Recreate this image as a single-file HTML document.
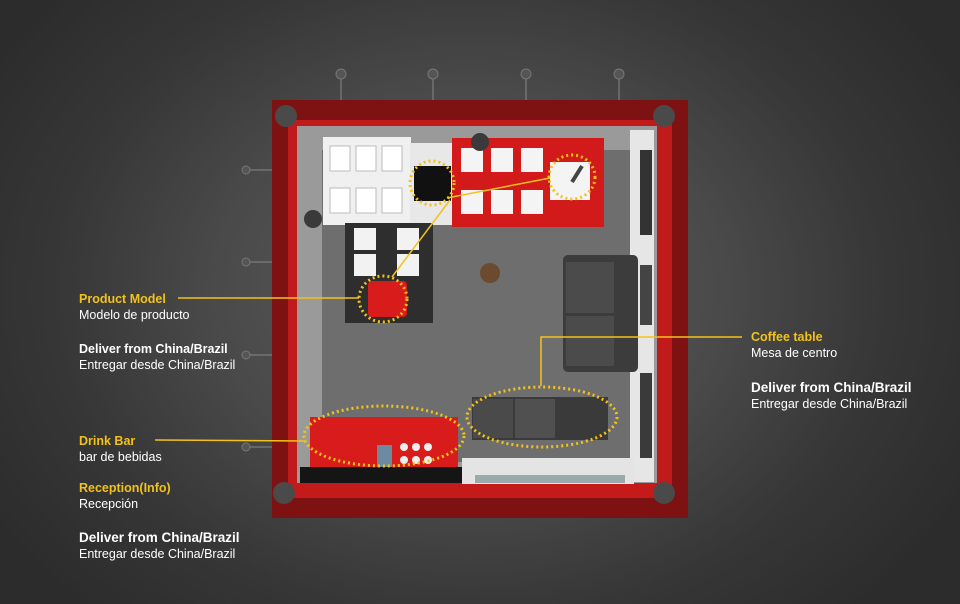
<!DOCTYPE html>
<html><head><style>
html,body{margin:0;padding:0;}
body{width:960px;height:604px;overflow:hidden;background:radial-gradient(ellipse 560px 440px at 470px 290px,#5e5e5e 0%,#4a4a4a 45%,#363636 75%,#2c2c2c 100%);font-family:"Liberation Sans",sans-serif;position:relative;}
.t{position:absolute;font-size:12.5px;line-height:16px;color:#fff;}
.y{color:#f2c21b;font-weight:bold;}
.b{font-weight:bold;font-size:13.5px;}
</style></head><body>
<svg width="960" height="604" style="position:absolute;left:0;top:0">
<g fill="#555" stroke="#777">
<line x1="341" y1="70" x2="341" y2="105" stroke="#888"/><circle cx="341" cy="74" r="5"/>
<line x1="433" y1="70" x2="433" y2="105" stroke="#888"/><circle cx="433" cy="74" r="5"/>
<line x1="526" y1="70" x2="526" y2="105" stroke="#888"/><circle cx="526" cy="74" r="5"/>
<line x1="619" y1="70" x2="619" y2="105" stroke="#888"/><circle cx="619" cy="74" r="5"/>
<line x1="245" y1="170" x2="275" y2="170" stroke="#888"/><circle cx="246" cy="170" r="4"/>
<line x1="245" y1="262" x2="275" y2="262" stroke="#888"/><circle cx="246" cy="262" r="4"/>
<line x1="245" y1="355" x2="275" y2="355" stroke="#888"/><circle cx="246" cy="355" r="4"/>
<line x1="245" y1="447" x2="275" y2="447" stroke="#888"/><circle cx="246" cy="447" r="4"/>
</g>
<rect x="272" y="100" width="416" height="418" fill="#7e1212"/>
<rect x="288" y="120" width="384" height="378" fill="#c01a1a"/>
<rect x="297" y="126" width="360" height="357" fill="#9a9a9a"/>
<rect x="322" y="150" width="312" height="312" fill="#6e6e6e"/>
<rect x="290" y="483" width="380" height="14" fill="#c41a1a"/>
<rect x="630" y="130" width="24" height="352" fill="#e6e6e6"/>
<rect x="640" y="150" width="12" height="85" fill="#333"/>
<rect x="640" y="265" width="12" height="60" fill="#444"/>
<rect x="640" y="373" width="12" height="85" fill="#3a3a3a"/>
<rect x="462" y="458" width="172" height="26" fill="#e4e4e4"/>
<rect x="475" y="475" width="150" height="8" fill="#9aa"/>
<rect x="323" y="137" width="88" height="88" fill="#f0f0f0"/>
<g fill="#fff" stroke="#bbb">
<rect x="330" y="146" width="20" height="25"/><rect x="356" y="146" width="20" height="25"/><rect x="382" y="146" width="20" height="25"/>
<rect x="330" y="188" width="20" height="25"/><rect x="356" y="188" width="20" height="25"/><rect x="382" y="188" width="20" height="25"/>
</g>
<rect x="410" y="143" width="42" height="82" fill="#e8e8e8"/>
<rect x="414" y="166" width="37" height="35" fill="#111"/>
<rect x="452" y="138" width="152" height="89" fill="#d21a1a"/>
<g fill="#f4f4f4">
<rect x="461" y="148" width="22" height="24"/><rect x="491" y="148" width="22" height="24"/><rect x="521" y="148" width="22" height="24"/>
<rect x="461" y="190" width="22" height="24"/><rect x="491" y="190" width="22" height="24"/><rect x="521" y="190" width="22" height="24"/>
</g>
<rect x="550" y="162" width="40" height="38" fill="#f4f4f4"/>
<line x1="572" y1="182" x2="582" y2="166" stroke="#444" stroke-width="4"/>
<circle cx="480" cy="142" r="9" fill="#3a3a3a"/>
<circle cx="313" cy="219" r="9" fill="#3a3a3a"/>
<rect x="345" y="223" width="88" height="100" fill="#2e2e2e"/>
<g fill="#f2f2f2"><rect x="354" y="228" width="22" height="22"/><rect x="397" y="228" width="22" height="22"/><rect x="354" y="254" width="22" height="22"/><rect x="397" y="254" width="22" height="22"/></g>
<rect x="368" y="281" width="39" height="36" rx="4" fill="#d81c1c"/>
<circle cx="490" cy="273" r="10" fill="#6b4a30"/>
<rect x="563" y="255" width="75" height="117" rx="5" fill="#3c3c3c"/>
<rect x="566" y="262" width="48" height="51" fill="#4b4b4b"/><rect x="566" y="316" width="48" height="50" fill="#4b4b4b"/>
<rect x="472" y="397" width="136" height="43" fill="#3a3a3a"/>
<rect x="473" y="399" width="40" height="39" fill="#4a4a4a"/><rect x="515" y="399" width="40" height="39" fill="#505050"/>
<rect x="300" y="467" width="162" height="16" fill="#151515"/>
<rect x="310" y="417" width="148" height="50" fill="#d81c1c"/>
<rect x="377" y="445" width="15" height="22" fill="#6c8aa0"/>
<g fill="#eee"><circle cx="404" cy="447" r="4"/><circle cx="416" cy="447" r="4"/><circle cx="428" cy="447" r="4"/><circle cx="404" cy="460" r="4"/><circle cx="416" cy="460" r="4"/><circle cx="428" cy="460" r="4"/></g>
<g fill="#4a4a4a"><circle cx="286" cy="116" r="11"/><circle cx="664" cy="116" r="11"/><circle cx="284" cy="493" r="11"/><circle cx="664" cy="493" r="11"/></g>
<g fill="none" stroke="#f2c21b" stroke-width="3" stroke-dasharray="2 3">
<circle cx="432" cy="183" r="22"/>
<ellipse cx="572" cy="177" rx="23" ry="22"/>
<ellipse cx="383" cy="299" rx="24" ry="23"/>
<ellipse cx="542" cy="417" rx="75" ry="30"/>
<ellipse cx="384" cy="436" rx="80" ry="30"/>
</g>
<g stroke="#f2c21b" stroke-width="1.5" fill="none">
<line x1="178" y1="298" x2="359" y2="298"/>
<line x1="392" y1="277" x2="450" y2="200"/>
<line x1="447" y1="198" x2="550" y2="178"/>
<polyline points="541,386 541,337 742,337"/>
<line x1="155" y1="440" x2="305" y2="441"/>
</g>
</svg>
<div class="t" style="left:79px;top:291px"><span class="y">Product Model</span><br>Modelo de producto</div>
<div class="t" style="left:79px;top:341px"><b>Deliver from China/Brazil</b><br>Entregar desde China/Brazil</div>
<div class="t" style="left:751px;top:329px"><span class="y">Coffee table</span><br>Mesa de centro</div>
<div class="t" style="left:751px;top:380px"><b class="b">Deliver from China/Brazil</b><br>Entregar desde China/Brazil</div>
<div class="t" style="left:79px;top:433px"><span class="y">Drink Bar</span><br>bar de bebidas</div>
<div class="t" style="left:79px;top:480px"><span class="y">Reception(Info)</span><br>Recepción</div>
<div class="t" style="left:79px;top:530px"><b class="b">Deliver from China/Brazil</b><br>Entregar desde China/Brazil</div>
</body></html>
